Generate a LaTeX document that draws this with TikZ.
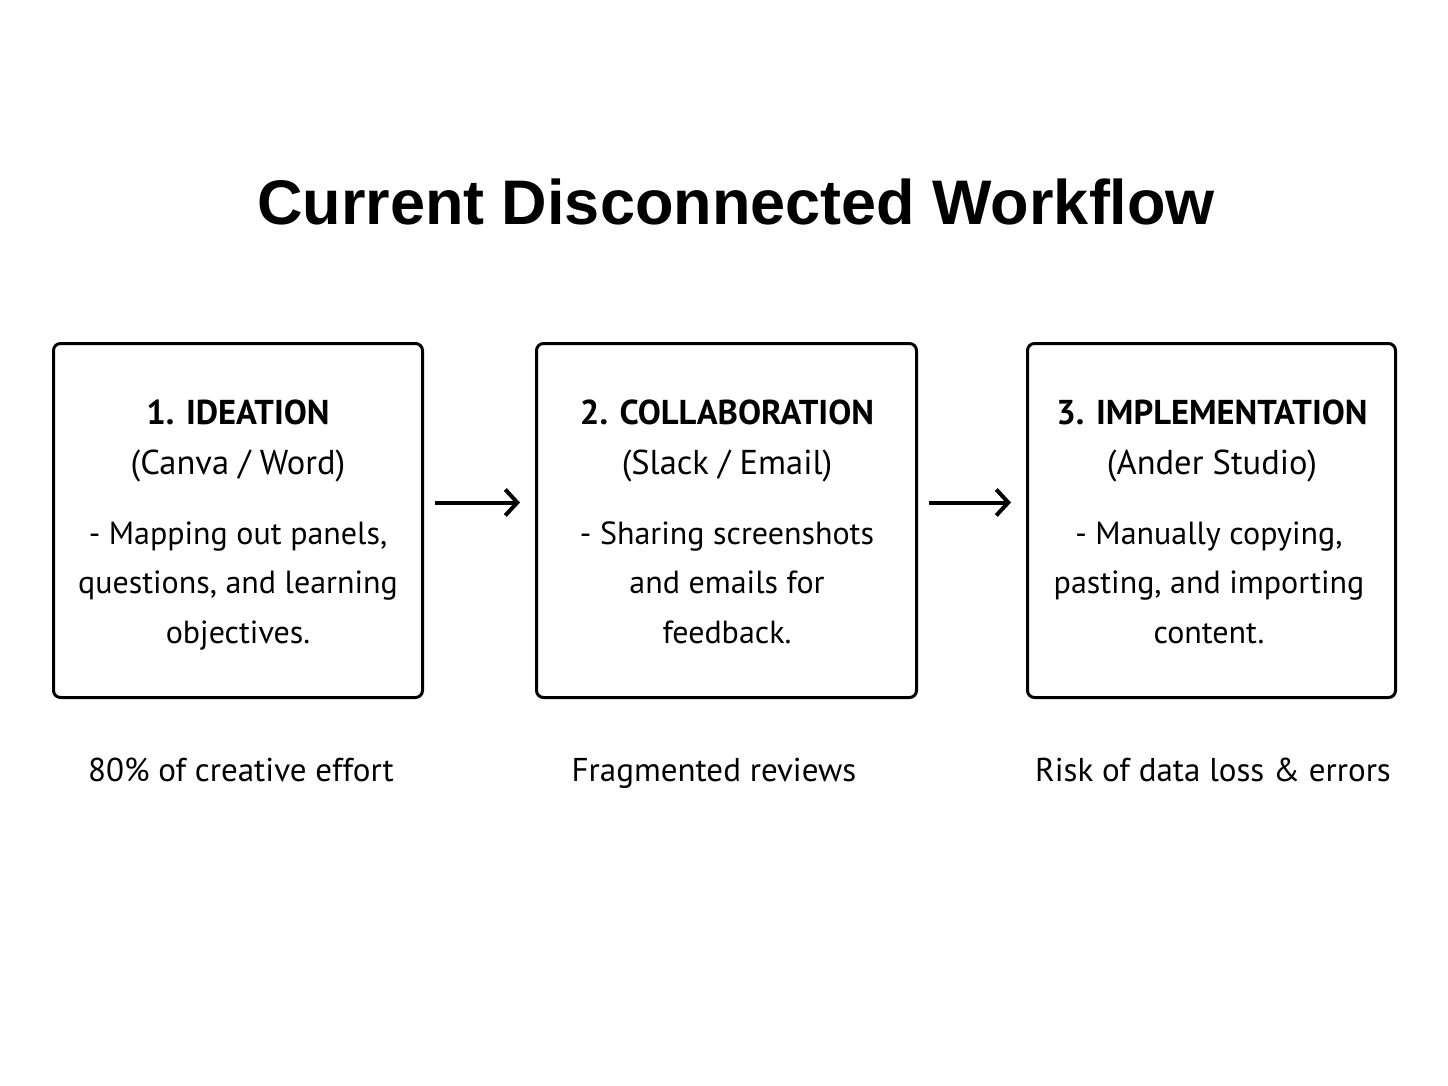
\documentclass[tikz,border=0pt]{standalone}
\usepackage{fontspec}
\setmainfont{PT Sans}
\newfontfamily\titlefont{Liberation Sans}
\usetikzlibrary{arrows.meta,positioning}

\begin{document}
\begin{tikzpicture}[x=1pt,y=-1pt,
    stagebox/.style={draw,line width=3pt,rounded corners=7pt,minimum height=354pt},
    stagehead/.style={align=center,anchor=base,font=\fontsize{34.5}{50}\selectfont},
    stagetext/.style={align=center,anchor=base,font=\fontsize{32}{49.5}\selectfont},
    caption/.style={anchor=base,font=\fontsize{33}{36}\selectfont},
    flowarrow/.style={line width=4pt,-{Straight Barb[length=12pt,width=26pt]},shorten <=11pt,shorten >=15pt}]
    \useasboundingbox (0,0) rectangle (1448,1086);
    % title
    \node[anchor=base,font=\titlefont\bfseries\fontsize{63}{70}\selectfont] (title) at (736,225) {Current Disconnected Workflow};
    % the three stages
    \node[stagebox,minimum width=369pt] (ideation) at (238,520.5) {};
    \node[stagebox,minimum width=380pt] (collab) at (726.5,520.5) {};
    \node[stagebox,minimum width=368pt] (implement) at (1211.5,520.5) {};
    % base of a multi-line node is its last line
    \node[stagehead] (ideationhead) at (238,474) {\textbf{1. IDEATION}\\(Canva / Word)};
    \node[stagetext] (ideationbody) at (238,643) {- Mapping out panels,\\questions, and learning\\objectives.};
    \node[stagehead] (collabhead) at (727,474) {\textbf{2. COLLABORATION}\\(Slack / Email)};
    \node[stagetext] (collabbody) at (727,643) {- Sharing screenshots\\and emails for\\feedback.};
    \node[stagehead] (implementhead) at (1212,474) {\textbf{3. IMPLEMENTATION}\\(Ander Studio)};
    \node[stagetext] (implementbody) at (1209,643) {- Manually copying,\\pasting, and importing\\content.};
    % arrows between stages
    \draw[flowarrow] ([yshift=18pt]ideation.east) -- ([yshift=18pt]collab.west);
    \draw[flowarrow] ([yshift=18pt]collab.east) -- ([yshift=18pt]implement.west);
    % notes under the boxes
    \node[caption] (ideationnote) at (241,781) {80\% of creative effort};
    \node[caption] (collabnote) at (714,781) {Fragmented reviews};
    \node[caption] (implementnote) at (1213,781) {Risk of data loss \& errors};
\end{tikzpicture}
\end{document}
